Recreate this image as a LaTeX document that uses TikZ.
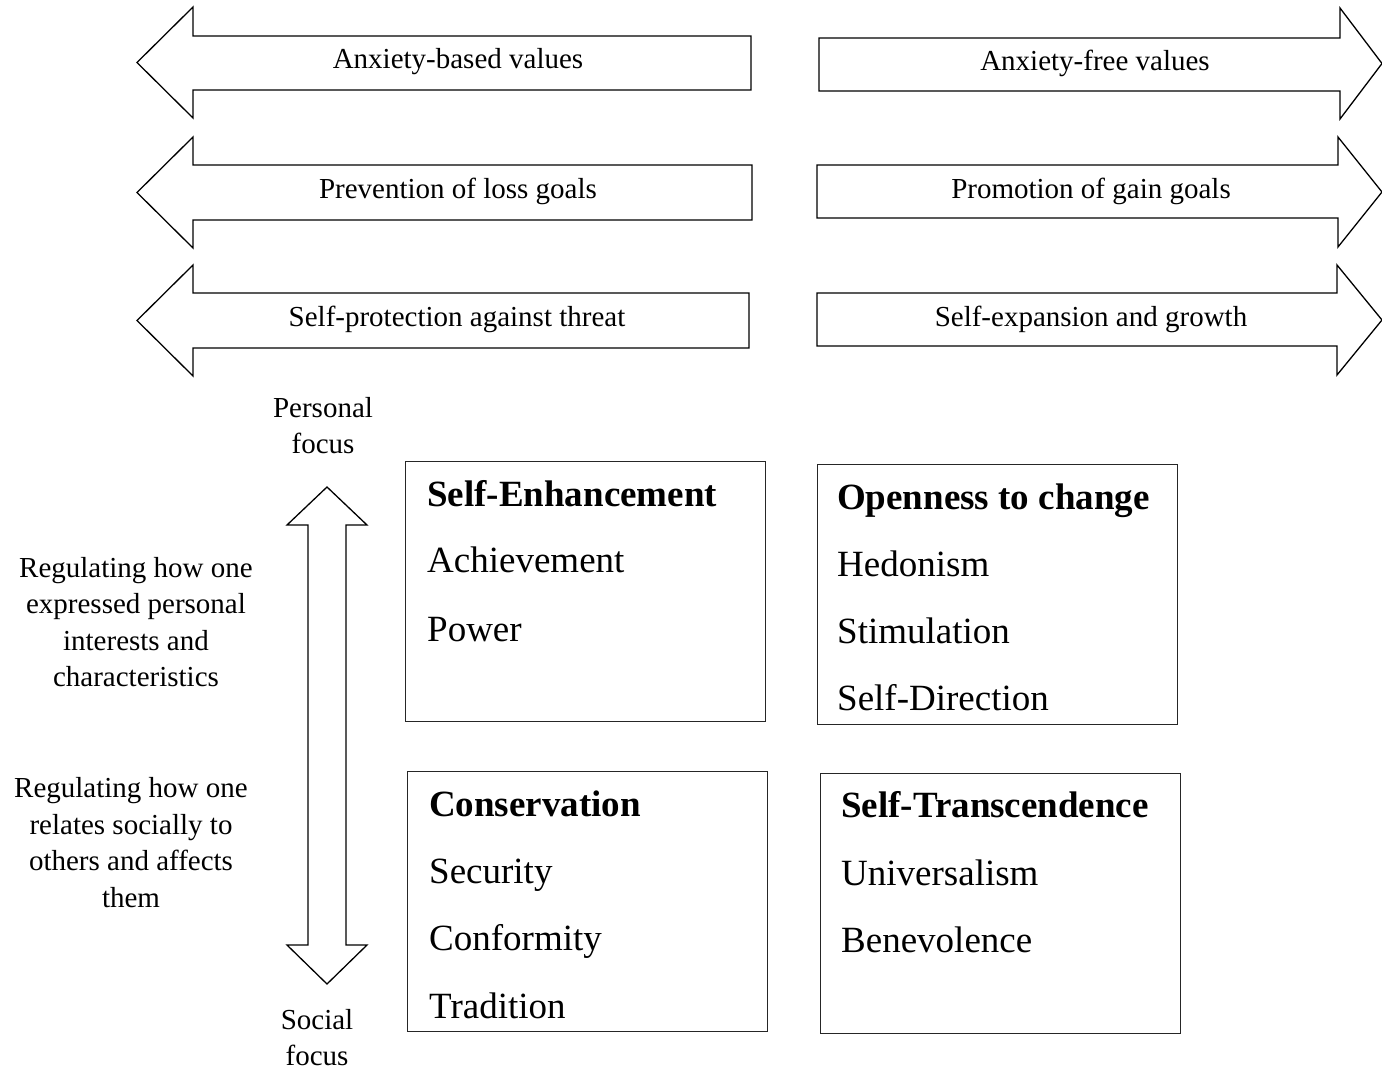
\documentclass[tikz,border=0pt]{standalone}
\usepackage{fontspec}
\setmainfont{Liberation Serif}
\begin{document}
\begin{tikzpicture}[x=1pt,y=-1pt,
  outline/.style={draw=black, line width=1.3pt, line join=miter},
  small/.style={font=\fontsize{29}{36.5}\selectfont, align=center, inner sep=0pt},
  arrowtext/.style={small, anchor=base},
  big/.style={font=\fontsize{37}{44}\selectfont, anchor=base west, inner sep=0pt},
  bigb/.style={big, font=\fontsize{37}{44}\selectfont\bfseries},
  panel/.style={draw=black!85, line width=1.4pt, anchor=north west,
                minimum width=360, minimum height=260, inner sep=0pt}
]
\useasboundingbox (0,0) rectangle (1382,1071);

% ---- block arrows pointing left ----
\draw[outline] (751,36) -- (193,36) -- (193,7) -- (137,62.5) -- (193,118) -- (193,90) -- (751,90) -- cycle;
\draw[outline] (752,165) -- (193,165) -- (193,137) -- (137,192.5) -- (193,248) -- (193,220) -- (752,220) -- cycle;
\draw[outline] (749,293) -- (193,293) -- (193,265) -- (137,320.5) -- (193,376) -- (193,348) -- (749,348) -- cycle;

% ---- block arrows pointing right ----
\draw[outline] (819,38) -- (1340,38) -- (1340,8) -- (1382,63.5) -- (1340,119) -- (1340,91) -- (819,91) -- cycle;
\draw[outline] (817,165) -- (1338,165) -- (1338,137) -- (1382,192) -- (1338,247) -- (1338,218) -- (817,218) -- cycle;
\draw[outline] (817,293) -- (1337,293) -- (1337,265) -- (1382,320) -- (1337,375) -- (1337,346) -- (817,346) -- cycle;

\node[arrowtext] (anxb) at (458,68) {Anxiety-based values};
\node[arrowtext] (anxf) at (1095,70) {Anxiety-free values};
\node[arrowtext] (prev) at (458,198) {Prevention of loss goals};
\node[arrowtext] (prom) at (1091,198) {Promotion of gain goals};
\node[arrowtext] (prot) at (457,326) {Self-protection against threat};
\node[arrowtext] (expa) at (1091,326) {Self-expansion and growth};

% ---- vertical double arrow ----
\draw[outline] (308,525) -- (287,525) -- (327,487) -- (367,525) -- (346,525)
  -- (346,945) -- (367,945) -- (327,984) -- (287,945) -- (308,945) -- cycle;

\node[small] (pers) at (323,425.5) {Personal\\focus};
\node[small] (soc) at (317,1037.5) {Social\\focus};
\node[small] (regp) at (136,622) {Regulating how one\\expressed personal\\interests and\\characteristics};
\node[small] (regs) at (131,842.5) {Regulating how one\\relates socially to\\others and affects\\them};

% ---- value panels ----
\node[panel] (enh) at (405,461) {};
\node[bigb] (enhT) at (427,506) {Self-Enhancement};
\node[big] (ach) at (427,572) {Achievement};
\node[big] (pow) at (427,641) {Power};

\node[panel] (opn) at (817,464) {};
\node[bigb] (opnT) at (837,509) {Openness to change};
\node[big] (hed) at (837,576) {Hedonism};
\node[big] (sti) at (837,643) {Stimulation};
\node[big] (sdi) at (837,710) {Self-Direction};

\node[panel] (con) at (407,771) {};
\node[bigb] (conT) at (429,816) {Conservation};
\node[big] (sec) at (429,883) {Security};
\node[big] (cnf) at (429,950) {Conformity};
\node[big] (tra) at (429,1018) {Tradition};

\node[panel] (tra2) at (820,773) {};
\node[bigb] (trnT) at (841,817) {Self-Transcendence};
\node[big] (uni) at (841,885) {Universalism};
\node[big] (ben) at (841,952) {Benevolence};
\end{tikzpicture}
\end{document}
